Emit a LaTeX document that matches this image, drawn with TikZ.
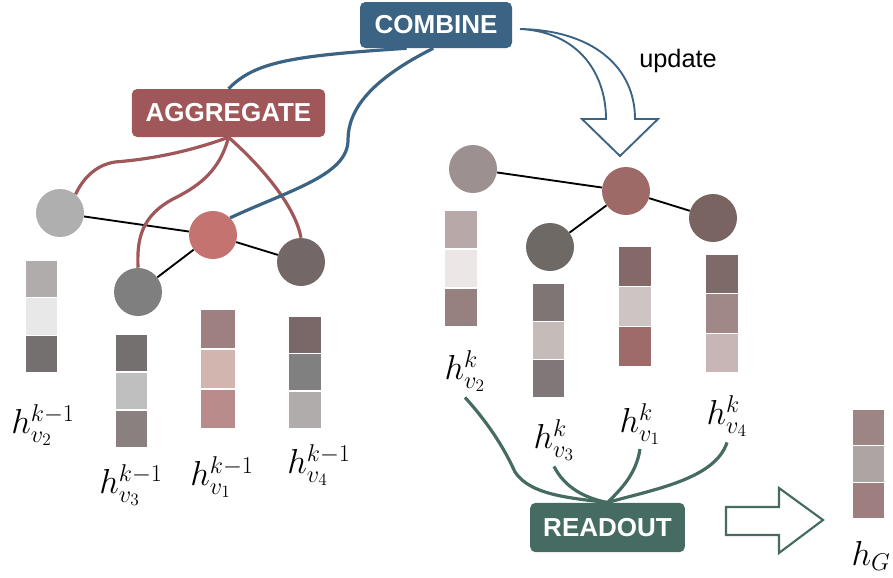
\documentclass[tikz,border=0pt]{standalone}
\usepackage{fix-cm}
\usepackage{fontspec}
\setmainfont{Liberation Sans}
\usepackage{tikz}
\usetikzlibrary{positioning,arrows.meta}
\usepackage{xcolor}

\definecolor{combblue}{HTML}{3A6384}
\definecolor{aggred}{HTML}{A0575A}
\definecolor{readgreen}{HTML}{466B63}

\newcommand{\vecbar}[7]{%
    \definecolor{cellA}{HTML}{#5}\definecolor{cellB}{HTML}{#6}\definecolor{cellC}{HTML}{#7}%
    \filldraw[cellA,draw=white,line width=1pt] (#1,#2) rectangle ++(#3,#4);
    \filldraw[cellB,draw=white,line width=1pt] (#1,#2+#4) rectangle ++(#3,#4);
    \filldraw[cellC,draw=white,line width=1pt] (#1,#2+2*#4) rectangle ++(#3,#4);
}

\begin{document}
\begin{tikzpicture}[x=0.75pt,y=-0.75pt,
    vnode/.style={circle,minimum size=36pt,inner sep=0pt},
    opbox/.style={rounded corners=4pt,text=white,inner sep=0pt,
        font=\bfseries\fontsize{19.5}{22}\selectfont},
    edge/.style={line width=1.4pt},
    link/.style={line width=2.4pt},
    hlab/.style={inner sep=0pt,font=\fontsize{26}{30}\selectfont}]

    \useasboundingbox (0,0) rectangle (893,578);

    % operation boxes
    \node[opbox,fill=combblue,minimum width=114pt,minimum height=34.5pt] (comb) at (436,25) {COMBINE};
    \node[opbox,fill=aggred,minimum width=145pt,minimum height=36pt] (agg) at (228.5,113) {AGGREGATE};
    \node[opbox,fill=readgreen,minimum width=116pt,minimum height=37pt] (read) at (607.5,527.5) {READOUT};
    \node[font=\fontsize{19}{22}\selectfont] (upd) at (678,61) {update};

    % graph at layer k-1
    \node[vnode,fill={rgb,255:red,175;green,175;blue,175}] (n2) at (60,213) {};
    \node[vnode,fill={rgb,255:red,196;green,115;blue,113}] (n1) at (213,235) {};
    \node[vnode,fill={rgb,255:red,115;green,103;blue,103}] (n4) at (301,262) {};
    \node[vnode,fill={rgb,255:red,127;green,127;blue,127}] (n3) at (138,292) {};
    \draw[edge] (n2) -- (n1);
    \draw[edge] (n1) -- (n4);
    \draw[edge] (n1) -- (n3);

    % graph at layer k
    \node[vnode,fill={rgb,255:red,156;green,145;blue,144}] (m2) at (473,169) {};
    \node[vnode,fill={rgb,255:red,157;green,106;blue,104}] (m1) at (626,191) {};
    \node[vnode,fill={rgb,255:red,122;green,100;blue,97}] (m4) at (713,218) {};
    \node[vnode,fill={rgb,255:red,110;green,105;blue,101}] (m3) at (550,247) {};
    \draw[edge] (m2) -- (m1);
    \draw[edge] (m1) -- (m4);
    \draw[edge] (m1) -- (m3);

    % embeddings
    \vecbar{25}{260}{33}{37.7}{B0ACAB}{E8E8E8}{747070}
    \vecbar{115}{334}{33}{38}{747070}{BFBFBF}{8B8080}
    \vecbar{200}{309}{36}{40}{9E8080}{D2B5AE}{B98B8B}
    \vecbar{288}{316}{34}{37.5}{7A6868}{808080}{B0ACAB}
    \vecbar{444}{210}{34}{39}{B8A8A8}{ECE6E6}{968080}
    \vecbar{532}{283}{33}{38.3}{807575}{C5BCBA}{807878}
    \vecbar{618}{246}{34}{40.3}{856868}{CDC5C3}{9E6A6A}
    \vecbar{705}{254}{34}{39.7}{7F6A6A}{A08888}{C8B5B5}
    \vecbar{852}{409}{33}{36.7}{9E8585}{ACA5A3}{9E7E7E}

    \node[hlab] (l2) at (43,425) {$h_{v_2}^{k-1}$};
    \node[hlab] (l3) at (131,485) {$h_{v_3}^{k-1}$};
    \node[hlab] (l1) at (222,477) {$h_{v_1}^{k-1}$};
    \node[hlab] (l4) at (319,465) {$h_{v_4}^{k-1}$};
    \node[hlab] (r2) at (465,371) {$h_{v_2}^{k}$};
    \node[hlab] (r3) at (554,440) {$h_{v_3}^{k}$};
    \node[hlab] (r1) at (640,424) {$h_{v_1}^{k}$};
    \node[hlab] (r4) at (727,416) {$h_{v_4}^{k}$};
    \node[hlab] (hg) at (871,556) {$h_{G}$};

    % aggregate and combine links
    \draw[link,aggred] (agg.south) .. controls (180,155) and (140,160) .. (115,162)
        .. controls (95,165) and (82,180) .. (n2.50);
    \draw[link,aggred] (agg.south) .. controls (220,170) and (200,185) .. (177,197)
        .. controls (140,215) and (137,240) .. (n3.north);
    \draw[link,aggred] (agg.south) .. controls (260,165) and (295,205) .. (n4.north);
    \draw[link,combblue] ([xshift=-22pt]comb.south) .. controls (290,56) and (255,62) .. (agg.north);
    \draw[link,combblue] ([xshift=-2pt]comb.south) .. controls (370,80) and (348,110) .. (348,140)
        .. controls (348,175) and (290,190) .. (n1.45);

    % update arrow
    \filldraw[combblue,fill=white,line width=1.4pt,line join=miter]
        (520,29) .. controls (580,32) and (606,75) .. (606,119) -- (582,119) -- (620,156)
        -- (658,119) -- (635,119) .. controls (635,65) and (590,30) .. (520,29) -- cycle;

    % readout links
    \draw[link,readgreen] ([yshift=-4pt]r2.south) .. controls (490,425) and (505,450) .. (515,472)
        .. controls (530,495) and (570,498) .. (read.north);
    \draw[link,readgreen] ([yshift=-4pt]r3.south) .. controls (565,488) and (585,498) .. (read.north);
    \draw[link,readgreen] ([yshift=-3pt]r1.south) .. controls (636,475) and (620,490) .. (read.north);
    \draw[link,readgreen] ([yshift=-4pt]r4.south) .. controls (715,480) and (650,490) .. (read.north);

    % readout arrow
    \filldraw[readgreen,fill=white,line width=1.6pt,line join=miter]
        (726,507) -- (779,507) -- (779,488) -- (823,520) -- (779,553) -- (779,535) -- (726,535) -- cycle;
\end{tikzpicture}
\end{document}
